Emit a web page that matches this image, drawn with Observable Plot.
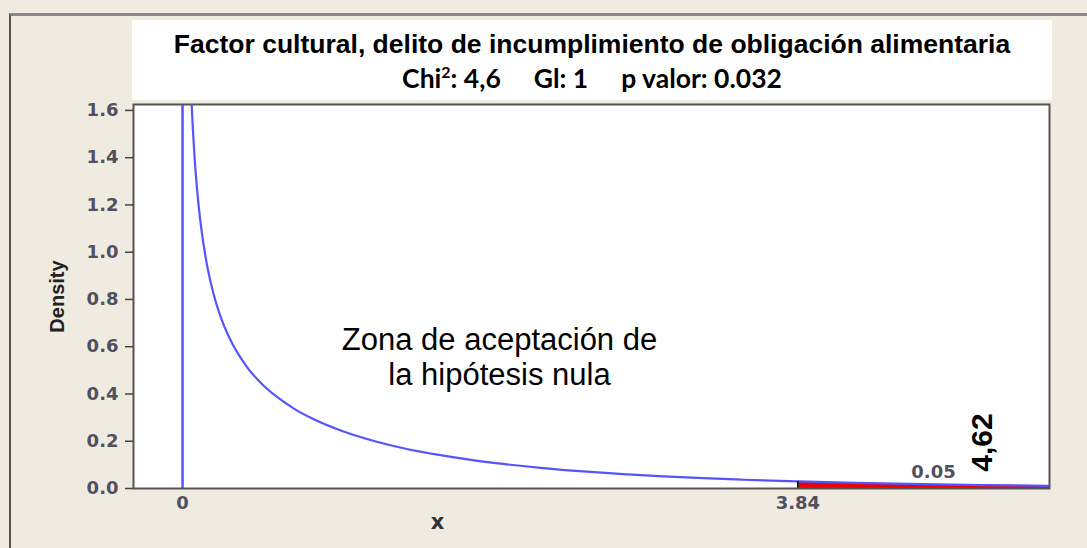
<!DOCTYPE html>
<html>
<head>
<meta charset="utf-8">
<script src="https://cdn.jsdelivr.net/npm/d3@7"></script>
<script src="https://cdn.jsdelivr.net/npm/@observablehq/plot@0.6"></script>
<style>
  html, body { margin: 0; padding: 0; }
  body { width: 1087px; height: 548px; background: #efebe1; position: relative; overflow: hidden; }
  #border { position: absolute; left: 9px; top: 13px; right: -5px; bottom: -5px;
            border-top: 3px solid #8a8a8a; border-left: 2px solid #555; }
  #titlebox { position: absolute; left: 132px; top: 20px; width: 920px; height: 80px; background: #fff; }
  #t1 { position: absolute; left: 0; width: 920px; top: 11px; text-align: center;
        font-family: "Liberation Sans", Arial, sans-serif; font-weight: bold; font-size: 26.5px; line-height: 26.5px; color: #000; white-space: nowrap; }
  #t2 { position: absolute; left: 0; width: 920px; top: 45px; text-align: center;
        font-family: Lato, "Open Sans", sans-serif; font-weight: bold; font-size: 26.5px; line-height: 26px; color: #000; white-space: nowrap; }
  #t2 span.g { display: inline-block; margin-left: 33px; }
  #t2 sup { font-size: 60%; vertical-align: 0.6em; line-height: 0; }
  #chart { position: absolute; left: 0; top: 100px; }
</style>
</head>
<body>
<div id="border"></div>
<div id="titlebox">
  <div id="t1">Factor cultural, delito de incumplimiento de obligación alimentaria</div>
  <div id="t2"><span>Chi<sup>2</sup>: 4,6</span><span class="g">Gl: 1</span><span class="g">p valor: 0.032</span></div>
</div>
<div id="chart"></div>
<script>
// Values (chi-square density curve, df = 1)
const curveX = [0.055, 0.058, 0.065, 0.075, 0.09, 0.1, 0.12, 0.15, 0.2, 0.25, 0.3, 0.4, 0.5, 0.6, 0.7, 0.8, 1.0, 1.2, 1.4, 1.6, 1.8, 2.0, 2.25, 2.5, 2.75, 3.0, 3.25, 3.5, 3.84, 4.2, 4.62, 5.0, 5.41];
const curveY = [1.655, 1.609, 1.515, 1.403, 1.271, 1.200, 1.085, 0.956, 0.807, 0.704, 0.627, 0.516, 0.439, 0.382, 0.336, 0.299, 0.242, 0.200, 0.167, 0.142, 0.121, 0.104, 0.0864, 0.0723, 0.0608, 0.0514, 0.0436, 0.0371, 0.0298, 0.0238, 0.0184, 0.0146, 0.0115];
const criticalValue = 3.84;
const alphaLabel = "0.05";
const statLabel = "4,62";
const zeroLine = [0];
const yTicks = [0, 0.2, 0.4, 0.6, 0.8, 1.0, 1.2, 1.4, 1.6];
const xTicks = [0, 3.84];
const xDomain = [-0.306, 5.41];
const yDomain = [0, 1.625];

const curve = curveX.map((x, i) => ({x, y: curveY[i]}));
const tail = curve.filter(d => d.x >= criticalValue);
const critical = curve.filter(d => d.x === criticalValue);

const blue = "#5555ff";
const tickColor = "#50505f";

const chart = Plot.plot({
  width: 1087,
  height: 448,
  marginTop: 4,
  marginBottom: 60,
  marginLeft: 133,
  marginRight: 38,
  style: { background: "transparent", fontFamily: "'DejaVu Sans', Verdana, sans-serif", fontSize: "18px", fontWeight: "bold" },
  x: { domain: xDomain },
  y: { domain: yDomain },
  marks: [
    Plot.frame({ fill: "white" }),
    Plot.areaY(tail, { x: "x", y: "y", fill: "#ee0000" }),
    Plot.ruleX(zeroLine, { stroke: blue, strokeWidth: 2.5 }),
    Plot.line(curve, { x: "x", y: "y", stroke: blue, strokeWidth: 2.2, curve: "monotone-x", clip: true }),
    Plot.ruleX(critical, { x: "x", y1: 0, y2: "y", stroke: "#222", strokeWidth: 2 }),
    Plot.frame({ stroke: "#555", strokeWidth: 2 }),
    Plot.axisY({ ticks: yTicks, tickFormat: d3.format(".1f"), tickSize: 8, tickPadding: 7, stroke: "#444", strokeWidth: 1.5, fill: tickColor, label: null }),
    Plot.axisX({ ticks: xTicks, tickFormat: d => String(d), tickSize: 0, tickPadding: 8, fill: tickColor, label: null }),
    Plot.text(["Density"], { text: d => d, frameAnchor: "left", dx: -76, rotate: -90, textAnchor: "middle", lineAnchor: "middle",
      fontFamily: "'Liberation Sans Narrow', 'Arial Narrow', 'Liberation Sans', sans-serif", fontSize: 20, fontWeight: "bold", fill: "#222" }),
    Plot.text(["x"], { text: d => d, frameAnchor: "bottom-left", dx: 304, dy: 34, textAnchor: "middle", lineAnchor: "middle", fontSize: 21, fontWeight: "bold", fill: "#333" }),
    Plot.text([alphaLabel], { text: d => d, frameAnchor: "bottom-right", dx: -116, dy: -16, textAnchor: "middle", lineAnchor: "middle", fontSize: 18, fontWeight: "bold", fill: tickColor }),
    Plot.text([statLabel], { text: d => d, frameAnchor: "bottom-right", dx: -67, dy: -46, rotate: -90, textAnchor: "middle", lineAnchor: "middle",
      fontFamily: "'Liberation Sans', Arial, sans-serif", fontSize: 30, fontWeight: "bold", fill: "#000" }),
    Plot.text(["Zona de aceptación de\nla hipótesis nula"], { text: d => d, frameAnchor: "top-left", dx: 366, dy: 251.5, lineHeight: 1.13, textAnchor: "middle", lineAnchor: "middle",
      fontFamily: "'Liberation Sans', Arial, sans-serif", fontSize: 31, fontWeight: "normal", fill: "#000" })
  ]
});
document.getElementById("chart").appendChild(chart);
</script>
</body>
</html>
